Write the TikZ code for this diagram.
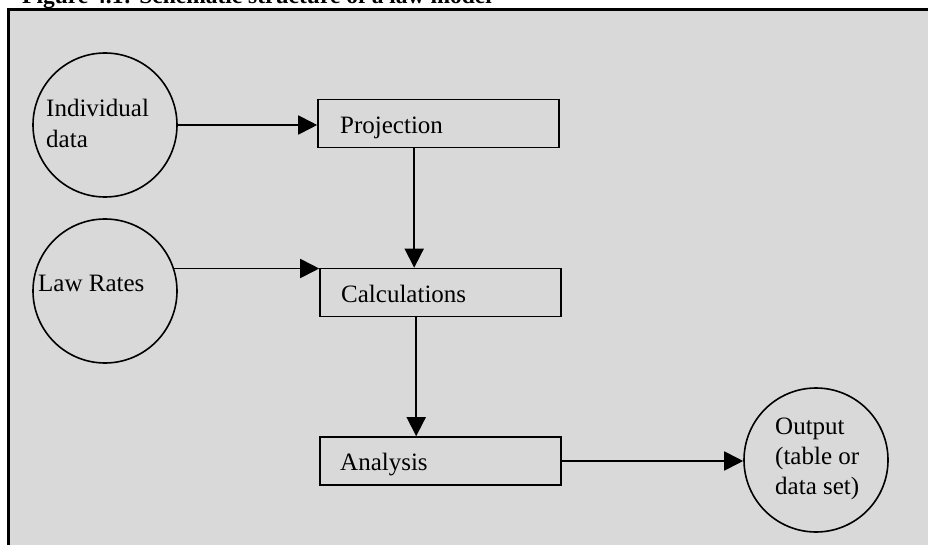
\documentclass[tikz,border=0pt]{standalone}
\usepackage{fontspec}
\setmainfont{Liberation Serif}
\usetikzlibrary{arrows.meta,calc}
\definecolor{panelgray}{HTML}{D9D9D9}
\tikzset{
  px/.style={x=1pt,y=-1pt},
  flowcircle/.style={circle,draw=black,line width=1.6pt,minimum size=144pt,inner sep=0pt},
  flowbox/.style={rectangle,draw=black,line width=1.6pt,minimum width=241pt,minimum height=48pt,inner sep=0pt},
  label/.style={font=\fontsize{25}{31}\selectfont,inner sep=0pt,align=left},
  conn/.style={line width=1.8pt,-{Triangle[length=19pt,width=19pt]}},
}
\begin{document}
\begin{tikzpicture}[px]
\useasboundingbox (0,0) rectangle (928,545);
% panel
\fill[panelgray] (8,9) rectangle (928,545);
\draw[line width=3pt] (8.5,545) -- (8.5,9.5) -- (928,9.5);
% title, cut off at the top edge as in the reference
\node[anchor=base west,inner sep=0pt,font=\bfseries\fontsize{23.5}{28}\selectfont] (title) at (22,3.5) {Figure 4.1: Schematic structure of a law model};
% shapes
\node[flowcircle] (idata) at (105,125) {};
\node[flowcircle] (law) at (105,291) {};
\node[flowcircle] (out) at (816,460) {};
\node[flowbox] (proj) at (438.5,123.5) {};
\node[flowbox] (calc) at (440.5,292.5) {};
\node[flowbox] (ana) at (440.5,461) {};
% texts
\node[label,anchor=north west] (tidata) at (46,99) {Individual\\data};
\node[label,anchor=base west] (tlaw) at (38,291) {Law Rates};
\node[label,anchor=base west] (tproj) at (340,134) {Projection};
\node[label,anchor=base west] (tcalc) at (341,302) {Calculations};
\node[label,anchor=base west] (tana) at (340,470) {Analysis};
\node[label,anchor=north west,font=\fontsize{25}{30}\selectfont] (tout) at (775,418) {Output\\(table or\\data set)};
% connectors
\draw[conn] (idata.east) -- (idata.east -| proj.west);
\draw[conn] (law.18.6) -- (law.18.6 -| calc.west);
\draw[conn] ([xshift=97pt]proj.south west) -- ([xshift=97pt]proj.south west |- calc.north);
\draw[conn] ([xshift=97pt]calc.south west) -- ([xshift=97pt]calc.south west |- ana.north);
\draw[conn] (ana.east) -- (ana.east -| out.west);
\end{tikzpicture}
\end{document}
